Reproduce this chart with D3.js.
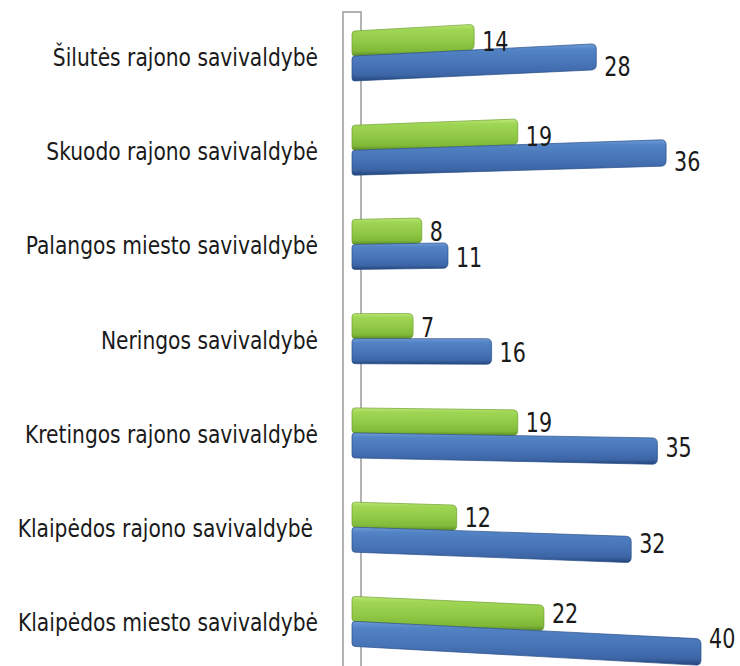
<!DOCTYPE html>
<html>
<head>
<meta charset="utf-8">
<script src="https://cdn.jsdelivr.net/npm/d3@7"></script>
<style>
  body { margin: 0; background: #fff; }
  svg { display: block; }
  text { font-family: "Liberation Sans Narrow", "DejaVu Sans Condensed", "Open Sans", sans-serif; fill: #1a1a1a; }
</style>
</head>
<body>
<div id="chart"></div>
<script>
// data (top to bottom)
var categories = [
    "Šilutės rajono savivaldybė",
    "Skuodo rajono savivaldybė",
    "Palangos miesto savivaldybė",
    "Neringos savivaldybė",
    "Kretingos rajono savivaldybė",
    "Klaipėdos rajono savivaldybė",
    "Klaipėdos miesto savivaldybė"
]
var greenValues = [14, 19, 8, 7, 19, 12, 22]
var blueValues = [28, 36, 11, 16, 35, 32, 40]
var seriesNames = ["green", "blue"]

var width = 740, height = 666

var svg = d3.select("#chart").append("svg")
    .attr("width", width)
    .attr("height", height)

var xScale = d3.scaleLinear().domain([0, 40]).range([352, 701])
var yScale = d3.scaleBand().domain(categories).range([10, 669.4]).padding(0)
var inner = d3.scaleBand().domain(seriesNames).range([-26, 24]).padding(0)

// fake perspective: bars spread away from the middle toward the right
var yv = 340, D = 5600
function proj(x, y) {
    var k = 1 + (x - xScale(0)) / D
    return [x, yv + (y - yv) * k]
}

var defs = svg.append("defs")
function grad(id, stops) {
    var g = defs.append("linearGradient").attr("id", id)
        .attr("x1", 0).attr("y1", 0).attr("x2", 0).attr("y2", 1)
    stops.forEach(function(s) {
        g.append("stop").attr("offset", s[0]).attr("stop-color", s[1])
    })
}
grad("g-green", [[0, "#bde877"], [0.15, "#a0d655"], [0.55, "#90c945"], [0.85, "#80b838"], [1, "#5c8c24"]])
grad("g-blue", [[0, "#6f9bd8"], [0.15, "#5283c4"], [0.55, "#4774b7"], [0.85, "#3c65a5"], [1, "#22447a"]])

// wall / axis
var wallL = 343, wallR = 361, wallTop = 12
svg.append("path")
    .attr("d", "M" + wallL + "," + height + " L" + wallL + "," + wallTop + " L" + wallR + "," + wallTop + " L" + wallR + "," + height)
    .attr("fill", "none")
    .attr("stroke", "#9a9a9a")
    .attr("stroke-width", 1.5)

function barPath(v, top, h) {
    var x0 = xScale(0), x1 = xScale(v), r = 5, rl = 3
    var p = function(x, y) { return proj(x, y).join(",") }
    return "M" + p(x0 + rl, top) +
        " L" + p(x1 - r, top) +
        " Q" + p(x1, top) + " " + p(x1, top + r) +
        " L" + p(x1, top + h - r) +
        " Q" + p(x1, top + h) + " " + p(x1 - r, top + h) +
        " L" + p(x0 + rl, top + h) +
        " Q" + p(x0, top + h) + " " + p(x0, top + h - rl) +
        " L" + p(x0, top + rl) +
        " Q" + p(x0, top) + " " + p(x0 + rl, top) + " Z"
}

var bars = []
categories.forEach(function(cat, i) {
    bars.push({ cat: cat, s: "green", v: greenValues[i] })
    bars.push({ cat: cat, s: "blue", v: blueValues[i] })
})

function centerOf(d) {
    return yScale(d.cat) + yScale.bandwidth() / 2
}

svg.selectAll(".bar")
    .data(bars)
    .enter()
    .append("path")
    .attr("class", "bar")
    .attr("d", function(d) {
        return barPath(d.v, centerOf(d) + inner(d.s), inner.bandwidth())
    })
    .attr("fill", function(d) { return "url(#g-" + d.s + ")" })
    .attr("stroke", function(d) { return d.s == "green" ? "#6f9f30" : "#2a4f88" })
    .attr("stroke-width", 0.7)

// value labels
svg.selectAll(".val")
    .data(bars)
    .enter()
    .append("text")
    .attr("class", "val")
    .attr("transform", function(d) {
        var yc = centerOf(d) + inner(d.s) + inner.bandwidth() / 2
        var y = yc + 3 + (yc - yv) * 0.012
        return "translate(" + (xScale(d.v) + 8) + "," + y + ") scale(0.85,1)"
    })
    .attr("dominant-baseline", "middle")
    .attr("font-size", 27)
    .text(function(d) { return d.v })

// category labels
svg.selectAll(".cat")
    .data(categories)
    .enter()
    .append("text")
    .attr("class", "cat")
    .attr("transform", function(d, i) {
        var x = i == 5 ? 313 : 318
        return "translate(" + x + "," + (yScale(d) + yScale.bandwidth() / 2 + 2) + ") scale(0.9,1)"
    })
    .attr("text-anchor", "end")
    .attr("dominant-baseline", "middle")
    .attr("font-size", 25)
    .text(function(d) { return d })
</script>
</body>
</html>
